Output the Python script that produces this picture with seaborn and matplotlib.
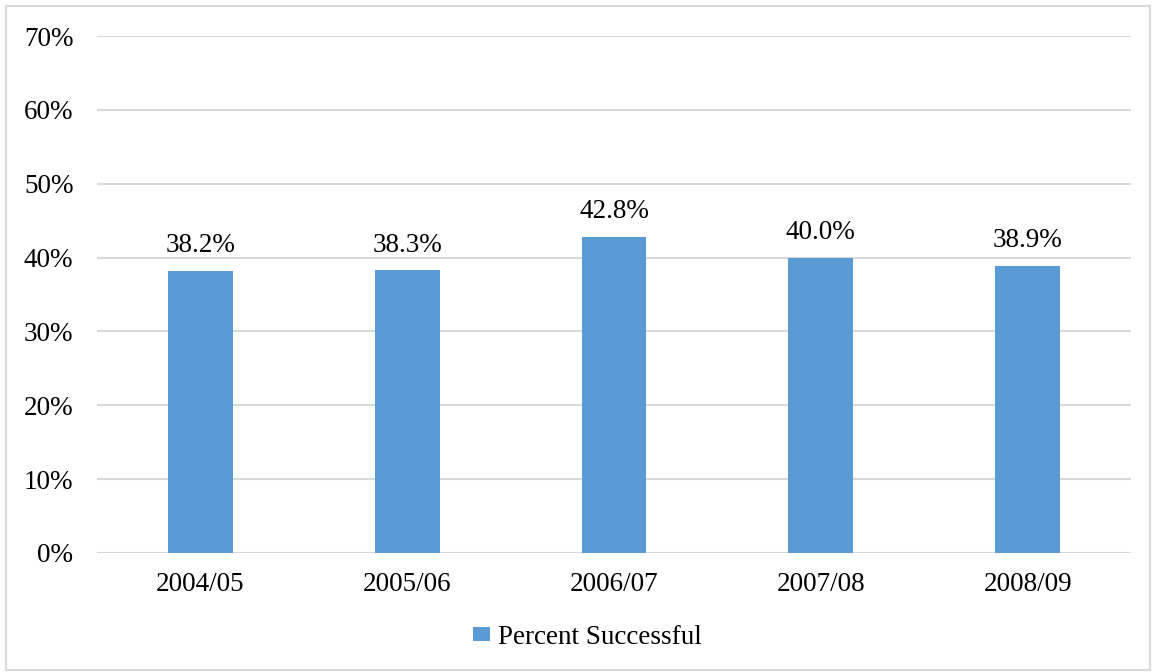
import matplotlib
matplotlib.use("Agg")
import matplotlib.pyplot as plt
from matplotlib.patches import Patch, Rectangle
from matplotlib.ticker import PercentFormatter
import seaborn as sns
import pandas as pd

years = ["2004/05", "2005/06", "2006/07", "2007/08", "2008/09"]
pct_successful = [0.382, 0.383, 0.428, 0.400, 0.389]
series_name = "Percent Successful"
bar_color = "#5B9BD5"

sns.set_theme(style="white")
plt.rcParams["font.family"] = ["Liberation Serif", "DejaVu Serif"]
plt.rcParams["text.color"] = "black"

df = pd.DataFrame({"year": years, "pct": pct_successful})

fig = plt.figure(figsize=(11.52, 6.72), dpi=100)
ax = fig.add_axes([0.0842, 0.1771, 0.8976, 0.7693])

sns.barplot(data=df, x="year", y="pct", color=bar_color, saturation=1,
            width=0.314, linewidth=0, ax=ax, zorder=3)

ax.set_ylim(0, 0.7)
ax.set_xlim(-0.5, len(years) - 0.5)
ax.set_yticks([i / 10 for i in range(8)])
ax.yaxis.set_major_formatter(PercentFormatter(1.0, decimals=0))
ax.grid(axis="y", color="#D9D9D9", linewidth=1.5, zorder=0)
ax.set_axisbelow(True)
for s in ax.spines.values():
    s.set_visible(False)
ax.tick_params(axis="both", length=0, labelsize=19.5, colors="black")
ax.tick_params(axis="y", pad=17)
ax.tick_params(axis="x", pad=14)
ax.set_xlabel("")
ax.set_ylabel("")

ax.bar_label(ax.containers[0], labels=[f"{v * 100:.1f}%" for v in pct_successful],
             padding=9, fontsize=19.5, color="black")

leg = fig.legend(handles=[Patch(facecolor=bar_color, edgecolor="none", label=series_name)],
                 loc="center", bbox_to_anchor=(0.51, 0.052), frameon=False,
                 fontsize=19.5, handlelength=0.6, handleheight=0.4, handletextpad=0.3)
for t in leg.get_texts():
    t.set_color("black")

# outer chart border
fig.patches.append(Rectangle((6 / 1152, 2 / 672), 1144 / 1152, 664 / 672,
                             transform=fig.transFigure, fill=False,
                             edgecolor="#D9D9D9", linewidth=1.5))

fig.savefig("out.png", dpi=100)
